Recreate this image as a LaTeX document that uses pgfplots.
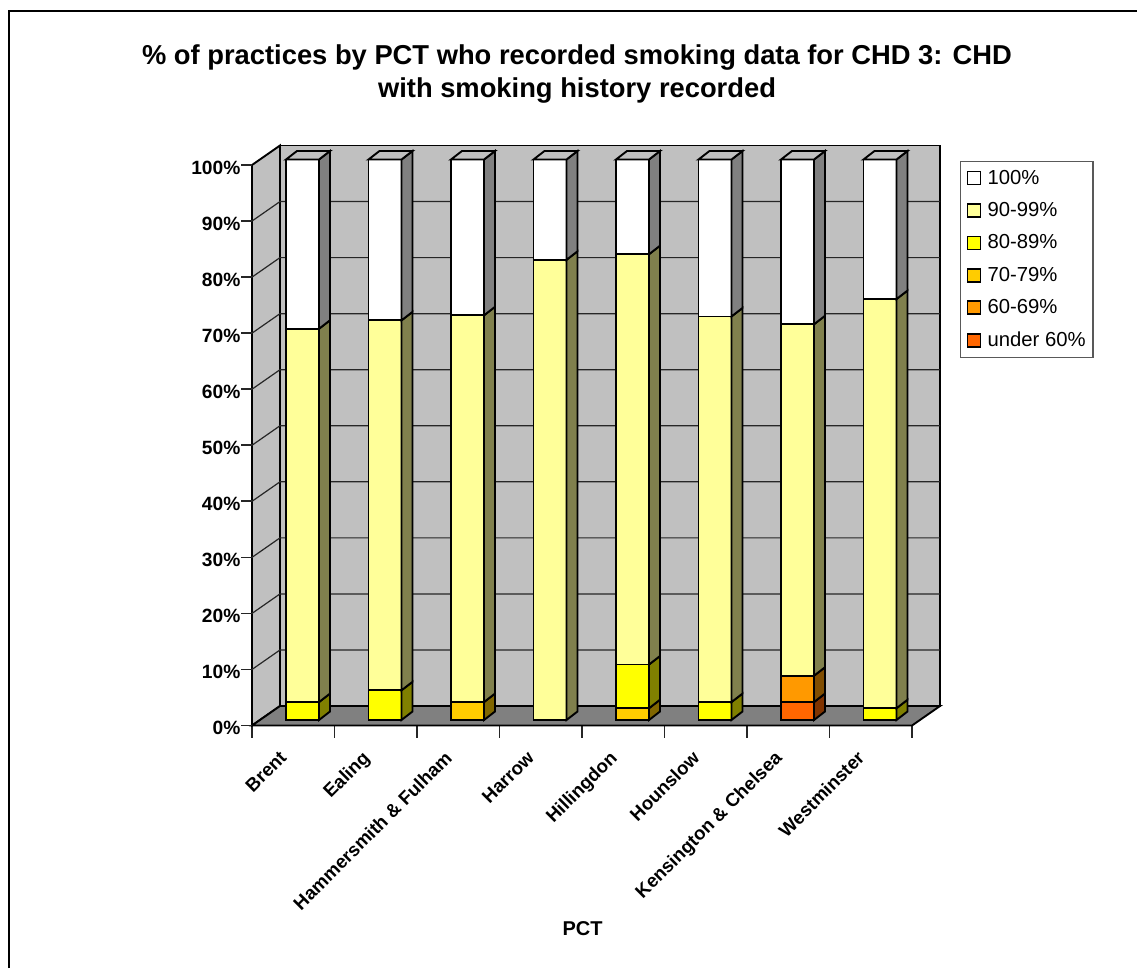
\documentclass[border=0pt]{standalone}
\usepackage{pgfplots}
\pgfplotsset{compat=1.18}
\usepackage{fontspec}
\setmainfont{Liberation Sans}
\definecolor{wallgray}{HTML}{C0C0C0}
\definecolor{floorgray}{HTML}{808080}
\definecolor{c100}{HTML}{FFFFFF}
\definecolor{s100}{HTML}{808080}
\definecolor{c90}{HTML}{FFFF99}
\definecolor{s90}{HTML}{80804D}
\definecolor{c80}{HTML}{FFFF00}
\definecolor{s80}{HTML}{808000}
\definecolor{c70}{HTML}{FFCC00}
\definecolor{s70}{HTML}{806600}
\definecolor{c60}{HTML}{FF9900}
\definecolor{s60}{HTML}{804D00}
\definecolor{c50}{HTML}{FF6600}
\definecolor{s50}{HTML}{803300}

% one pixel of the drawing
\newlength{\onepx}\setlength{\onepx}{0.75pt}

% depth offsets of the bars, in axis units
\def\barleft{0.412}
\def\barwidth{0.40}
\def\sidex{0.1333}
\def\sidey{1.52}
\def\basey{0.98}

\pgfplotsset{barface/.style={draw=black,line width=1.9\onepx,line join=miter,forget plot}}

% start a stacked bar at category #1
\newcommand\startbar[1]{\def\barindex{#1}\pgfmathsetmacro\cum{\basey}}
% one stacked segment: value, front colour, side colour
\newcommand\seg[3]{%
  \pgfmathsetmacro\lo{\cum}%
  \pgfmathsetmacro\hi{\cum+#1}%
  \pgfmathsetmacro\xa{\barindex+\barleft}%
  \pgfmathsetmacro\xb{\xa+\barwidth}%
  \pgfmathsetmacro\xc{\xb+\sidex}%
  \pgfmathsetmacro\lob{\lo+\sidey}%
  \pgfmathsetmacro\hib{\hi+\sidey}%
  \edef\tmp{%
    \noexpand\addplot[barface,fill=#2] coordinates {(\xa,\lo)(\xb,\lo)(\xb,\hi)(\xa,\hi)} --cycle;
    \noexpand\addplot[barface,fill=#3] coordinates {(\xb,\lo)(\xc,\lob)(\xc,\hib)(\xb,\hi)} --cycle;
  }\tmp
  \global\let\cum\hi
}
% the cap on the top of a finished bar
\newcommand\capbar{%
  \pgfmathsetmacro\xa{\barindex+\barleft}%
  \pgfmathsetmacro\xb{\xa+\barwidth}%
  \pgfmathsetmacro\xc{\xb+\sidex}%
  \pgfmathsetmacro\xd{\xa+\sidex}%
  \pgfmathsetmacro\hib{\cum+\sidey}%
  \edef\tmp{%
    \noexpand\addplot[barface,fill=wallgray] coordinates {(\xa,\cum)(\xb,\cum)(\xc,\hib)(\xd,\hib)} --cycle;
  }\tmp
}

\begin{document}
\begin{tikzpicture}
\path[use as bounding box] (0,0) rectangle (1137\onepx,-968\onepx);
\fill[white] (0,0) rectangle (1137\onepx,-968\onepx);
\draw[black,line width=2\onepx] (9\onepx,-968\onepx) -- (9\onepx,-10.5\onepx) -- (1137\onepx,-10.5\onepx);

\node[align=center,font=\fontsize{20.5pt}{25pt}\selectfont\bfseries,anchor=center]
  at (577\onepx,-74\onepx) {\% of practices by PCT who recorded smoking data for CHD 3: CHD\\with smoking history recorded};

\begin{axis}[
  at={(252\onepx,-725.5\onepx)},anchor=south west,
  scale only axis,width=660\onepx,height=560.5\onepx,
  xmin=0,xmax=8,ymin=0,ymax=100,
  clip=false,
  axis lines*=left,
  axis line style={black,line width=1.9\onepx,-},
  xtick={0.5,1.5,2.5,3.5,4.5,5.5,6.5,7.5},
  xticklabels={Brent,Ealing,Hammersmith \& Fulham,Harrow,Hillingdon,Hounslow,Kensington \& Chelsea,Westminster},
  minor xtick={0,1,2,3,4,5,6,7,8},
  ytick={0,10,20,30,40,50,60,70,80,90,100},
  yticklabels={0\%,10\%,20\%,30\%,40\%,50\%,60\%,70\%,80\%,90\%,100\%},
  tick align=outside,
  major tick length=0pt,
  minor tick length=12\onepx,
  ytick style={draw=none},
  xtick style={draw=none},
  minor x tick style={draw=black!85,line width=1.7\onepx},
  yticklabel style={font=\fontsize{14.4pt}{14pt}\selectfont\bfseries,xshift=-10\onepx,yshift=-2.5\onepx,inner sep=1pt},
  xticklabel style={font=\fontsize{14pt}{14pt}\selectfont\bfseries,rotate=45,anchor=north east,inner sep=0pt,yshift=-6.4\onepx,xshift=-27.25\onepx},
  xlabel={PCT},
  xlabel style={font=\fontsize{15pt}{15pt}\selectfont\bfseries,at={(0.5,0)},anchor=center,xshift=0.5\onepx,yshift=-203\onepx},
  legend style={at={(1.0727,1.0080)},anchor=north west,draw=black!65,line width=1.2\onepx,fill=white,
    font=\fontsize{15.2pt}{15.2pt}\selectfont,row sep=13.6\onepx,inner xsep=6\onepx,inner ysep=7.5\onepx,
    nodes={anchor=west,inner sep=1pt},
    /tikz/every odd column/.style={column sep=5\onepx}},
  legend cell align=left,
  legend image code/.code={\draw[#1,draw=black,line width=1.7\onepx] (0pt,-4.875pt) rectangle (9.75pt,4.875pt);},
]
% side wall, back wall and floor
\addplot[barface,fill=wallgray] coordinates {(0,0)(0.3394,3.48)(0.3394,103.48)(0,100)} --cycle;
\addplot[barface,fill=wallgray] coordinates {(0.3394,3.48)(8.3394,3.48)(8.3394,103.48)(0.3394,103.48)} --cycle;

% gridlines across the side wall and the back wall
\addplot[black!85,line width=1.2\onepx,forget plot] coordinates {(0,10)(0.3394,13.48)(8.3394,13.48)};
\addplot[black!85,line width=1.2\onepx,forget plot] coordinates {(0,20)(0.3394,23.48)(8.3394,23.48)};
\addplot[black!85,line width=1.2\onepx,forget plot] coordinates {(0,30)(0.3394,33.48)(8.3394,33.48)};
\addplot[black!85,line width=1.2\onepx,forget plot] coordinates {(0,40)(0.3394,43.48)(8.3394,43.48)};
\addplot[black!85,line width=1.2\onepx,forget plot] coordinates {(0,50)(0.3394,53.48)(8.3394,53.48)};
\addplot[black!85,line width=1.2\onepx,forget plot] coordinates {(0,60)(0.3394,63.48)(8.3394,63.48)};
\addplot[black!85,line width=1.2\onepx,forget plot] coordinates {(0,70)(0.3394,73.48)(8.3394,73.48)};
\addplot[black!85,line width=1.2\onepx,forget plot] coordinates {(0,80)(0.3394,83.48)(8.3394,83.48)};
\addplot[black!85,line width=1.2\onepx,forget plot] coordinates {(0,90)(0.3394,93.48)(8.3394,93.48)};

\addplot[barface,fill=floorgray] coordinates {(0,0)(0.3394,3.48)(8.3394,3.48)(8,0)} --cycle;

% y ticks
\addplot[black!85,line width=1.7\onepx,forget plot] coordinates {(-0.1333,0)(0,0)};
\addplot[black!85,line width=1.7\onepx,forget plot] coordinates {(-0.1333,10)(0,10)};
\addplot[black!85,line width=1.7\onepx,forget plot] coordinates {(-0.1333,20)(0,20)};
\addplot[black!85,line width=1.7\onepx,forget plot] coordinates {(-0.1333,30)(0,30)};
\addplot[black!85,line width=1.7\onepx,forget plot] coordinates {(-0.1333,40)(0,40)};
\addplot[black!85,line width=1.7\onepx,forget plot] coordinates {(-0.1333,50)(0,50)};
\addplot[black!85,line width=1.7\onepx,forget plot] coordinates {(-0.1333,60)(0,60)};
\addplot[black!85,line width=1.7\onepx,forget plot] coordinates {(-0.1333,70)(0,70)};
\addplot[black!85,line width=1.7\onepx,forget plot] coordinates {(-0.1333,80)(0,80)};
\addplot[black!85,line width=1.7\onepx,forget plot] coordinates {(-0.1333,90)(0,90)};
\addplot[black!85,line width=1.7\onepx,forget plot] coordinates {(-0.1333,100)(0,100)};

% Brent
\startbar{0}\seg{3.2}{c80}{s80}\seg{66.6}{c90}{s90}\seg{30.2}{c100}{s100}\capbar
% Ealing
\startbar{1}\seg{5.3}{c80}{s80}\seg{66.0}{c90}{s90}\seg{28.7}{c100}{s100}\capbar
% Hammersmith & Fulham
\startbar{2}\seg{3.2}{c70}{s70}\seg{69.0}{c90}{s90}\seg{27.8}{c100}{s100}\capbar
% Harrow
\startbar{3}\seg{82.1}{c90}{s90}\seg{17.9}{c100}{s100}\capbar
% Hillingdon
\startbar{4}\seg{2.1}{c70}{s70}\seg{7.8}{c80}{s80}\seg{73.2}{c90}{s90}\seg{16.9}{c100}{s100}\capbar
% Hounslow
\startbar{5}\seg{3.2}{c80}{s80}\seg{68.8}{c90}{s90}\seg{28.0}{c100}{s100}\capbar
% Kensington & Chelsea
\startbar{6}\seg{3.2}{c50}{s50}\seg{4.7}{c60}{s60}\seg{62.7}{c90}{s90}\seg{29.4}{c100}{s100}\capbar
% Westminster
\startbar{7}\seg{2.1}{c80}{s80}\seg{73.0}{c90}{s90}\seg{24.9}{c100}{s100}\capbar

\addlegendimage{fill=c100}\addlegendentry{100\%}
\addlegendimage{fill=c90}\addlegendentry{90-99\%}
\addlegendimage{fill=c80}\addlegendentry{80-89\%}
\addlegendimage{fill=c70}\addlegendentry{70-79\%}
\addlegendimage{fill=c60}\addlegendentry{60-69\%}
\addlegendimage{fill=c50}\addlegendentry{under 60\%}
\end{axis}
\end{tikzpicture}
\end{document}
